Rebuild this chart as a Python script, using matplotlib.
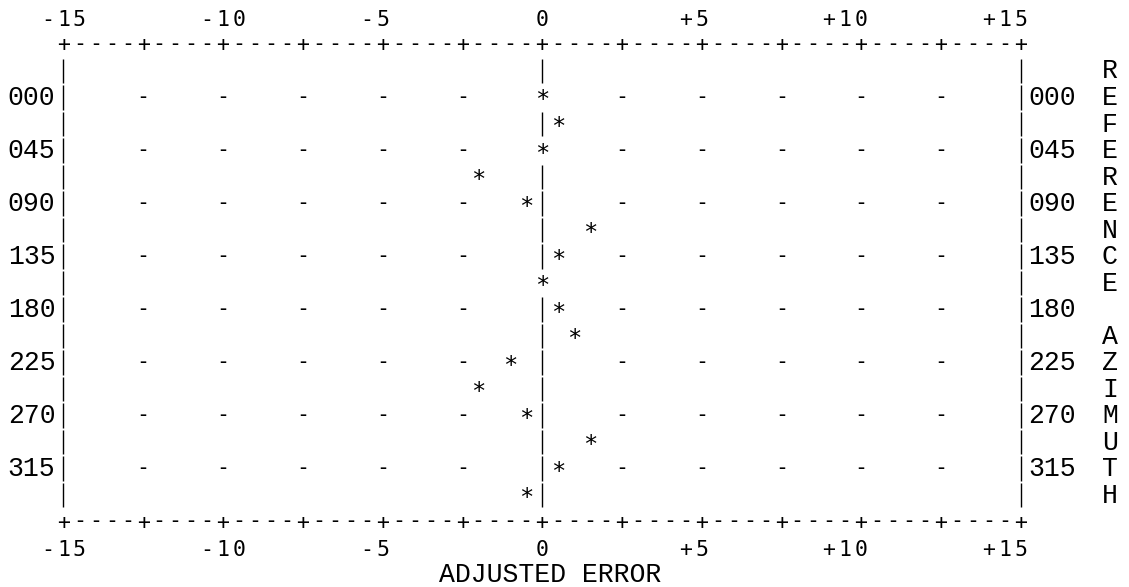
import matplotlib.pyplot as plt

# reference azimuth (deg) and adjusted error for every row of the plot
azimuth = [0, 22.5, 45, 67.5, 90, 112.5, 135, 157.5,
           180, 202.5, 225, 247.5, 270, 292.5, 315, 337.5]
error = [0, 0.5, 0, -2, -0.5, 1.5, 0.5, 0,
         0.5, 1, -1, -2, -0.5, 1.5, 0.5, -0.5]

row_labels_az = [0, 45, 90, 135, 180, 225, 270, 315]
row_labels = ['000', '045', '090', '135', '180', '225', '270', '315']

tick_values = [-15, -10, -5, 0, 5, 10, 15]
tick_labels = ['-15', '-10', '-5', '0', '+5', '+10', '+15']
tick_step = 2.5

xlabel = 'ADJUSTED ERROR'
ylabel = 'REFERENCE AZIMUTH'

# layout: one character column = 0.5 error units, one text line = 22.5 deg
COL = 0.5
LINE = 22.5
DEG_PX = 22.5 / 26.5
SANS = 'DejaVu Sans Mono'
MONO = 'Liberation Mono'
SANS_SIZE = 15.5

fig = plt.figure(figsize=(11.29, 5.87), dpi=100)
ax = fig.add_axes([0, 0, 1, 1])
ax.set_xlim(-16.99, 18.40)
ax.set_ylim(415.6, -82.78)
ax.axis('off')


def put(x, az, s, dy, size, family=SANS, ha='center'):
    # dy = baseline offset in pixels below the line centre
    ax.text(x, az + dy * DEG_PX, s, ha=ha, va='baseline',
            fontsize=size, family=family, color='black')


x_lo, x_hi = tick_values[0], tick_values[-1]
top_line = azimuth[0] - 2 * LINE
bot_line = azimuth[-1] + LINE

# tick labels, top and bottom
for v, s in zip(tick_values, tick_labels):
    shift = 1 if (len(s) == 3 and s.startswith('-')) else 0
    last = v + shift * COL
    for i, ch in enumerate(s):
        cx = last - (len(s) - 1 - i) * COL
        put(cx, top_line - LINE, ch, 7.8, SANS_SIZE)
        put(cx, bot_line + LINE, ch, 7.8, SANS_SIZE)

# +----+ border lines
n_cols = int(round((x_hi - x_lo) / COL))
for k in range(n_cols + 1):
    cx = x_lo + k * COL
    ch = '+' if abs((cx / tick_step) - round(cx / tick_step)) < 1e-9 else '-'
    dy = 7 if ch == '+' else 5.8
    put(cx, top_line, ch, dy, SANS_SIZE)
    put(cx, bot_line, ch, dy, SANS_SIZE)

# vertical bars at -15, 0, +15 (one short segment per text line)
bar_rows = [azimuth[0] - LINE] + azimuth
star_at_zero = {a for a, e in zip(azimuth, error) if e == 0}
half = 0.47 * LINE
for a in bar_rows:
    for bx in (x_lo, 0, x_hi):
        if bx == 0 and a in star_at_zero:
            continue
        ax.vlines(bx, a - half, a + half, color='black', lw=1.0)

# grid dashes on labelled rows
grid_x = [x_lo + k * tick_step for k in range(1, int((x_hi - x_lo) / tick_step))]
for a in row_labels_az:
    for gx in grid_x:
        if gx == 0:
            continue
        put(gx, a, '-', 5.8, SANS_SIZE)

# row labels left and right
for a, s in zip(row_labels_az, row_labels):
    put(x_lo - 2 * COL, a, s, 7.5, 19.1, MONO)
    put(x_hi + 2 * COL, a, s, 7.5, 19.1, MONO)

# the data
for a, e in zip(azimuth, error):
    put(e, a, '*', 10, 17)

# axis titles
put(0.25, bot_line + 2 * LINE, xlabel, 7.5, 19.1, MONO)
for i, ch in enumerate(ylabel):
    put(17.8, bar_rows[0] + i * LINE, ch, 7.5, 19.1, MONO)

fig.savefig('out.png', dpi=100, facecolor='white')
